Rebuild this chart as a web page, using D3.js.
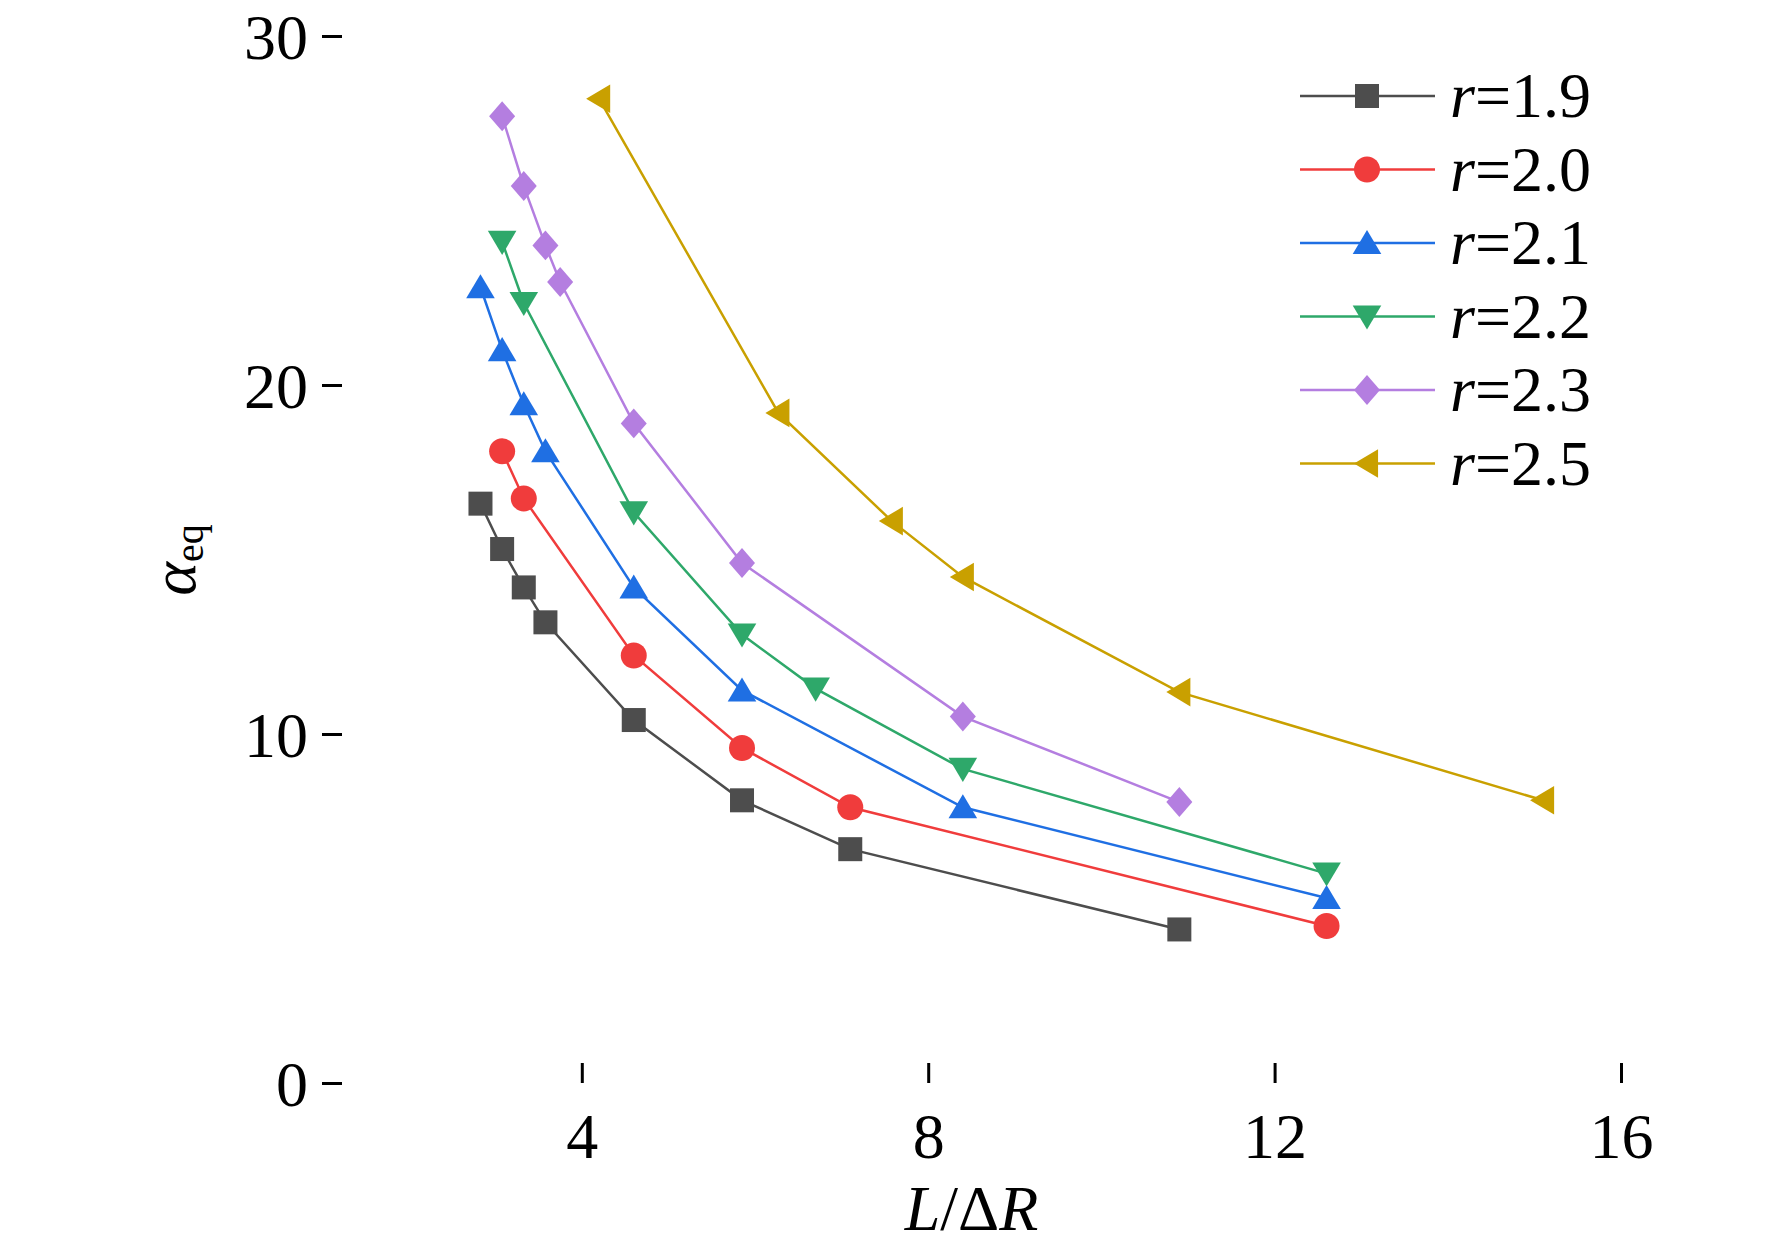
<!DOCTYPE html><html><head><meta charset="utf-8"><script src="https://cdn.jsdelivr.net/npm/d3@7"></script>
<style>body{margin:0;background:#fff}</style></head><body><svg id="c" width="1772" height="1253"></svg><script>
const labels=["r=1.9","r=2.0","r=2.1","r=2.2","r=2.3","r=2.5"];
const colors=["#4d4d4d","#f03c3c","#1f6fe3","#2ea86a","#b47ee0","#c9a000"];
const symbols=["square","circle","up","down","diamond","left"];
const x19=[2.83,3.08,3.33,3.58,4.6,5.85,7.1,10.9], y19=[16.6,15.3,14.2,13.2,10.4,8.1,6.7,4.4];
const x20=[3.08,3.33,4.6,5.85,7.1,12.6], y20=[18.1,16.75,12.25,9.6,7.9,4.5];
const x21=[2.83,3.08,3.33,3.58,4.6,5.85,8.4,12.6], y21=[22.8,21.0,19.45,18.1,14.2,11.25,7.9,5.3];
const x22=[3.08,3.33,4.6,5.85,6.7,8.4,12.6], y22=[24.1,22.35,16.35,12.85,11.3,9.0,6.0];
const x23=[3.08,3.33,3.58,3.75,4.6,5.85,8.4,10.9], y23=[27.7,25.7,24.0,22.95,18.9,14.9,10.5,8.05];
const x25=[4.2,6.27,7.58,8.4,10.9,15.1], y25=[28.2,19.2,16.1,14.5,11.2,8.1];
const xs=[x19,x20,x21,x22,x23,x25], ys=[y19,y20,y21,y22,y23,y25];
const xTicks=[4,8,12,16], yTicks=[0,10,20,30];
const svg=d3.select("#c"), L=322,R=1621,T=36,B=1083;
const x=d3.scaleLinear().domain([1,16]).range([L,R]);
const y=d3.scaleLinear().domain([0,30]).range([B,T]);
const F="'Liberation Serif','Times New Roman',serif";
function mk(g,s,cx,cy,c){const r=13;let p;
 if(s=="square")g.append("rect").attr("x",cx-r+1).attr("y",cy-r+1).attr("width",2*r-2).attr("height",2*r-2).attr("fill",c);
 else if(s=="circle")g.append("circle").attr("cx",cx).attr("cy",cy).attr("r",r).attr("fill",c);
 else {if(s=="up")p=[[0,-r],[r*1.1,r*0.85],[-r*1.1,r*0.85]];
 else if(s=="down")p=[[0,r],[r*1.1,-r*0.85],[-r*1.1,-r*0.85]];
 else if(s=="diamond")p=[[0,-r*1.15],[r,0],[0,r*1.15],[-r,0]];
 else p=[[-r,0],[r*0.85,-r*1.1],[r*0.85,r*1.1]];
 g.append("polygon").attr("points",p.map(q=>[cx+q[0],cy+q[1]].join(",")).join(" ")).attr("fill",c);}}
const line=d3.line().x(d=>x(d[0])).y(d=>y(d[1]));
xs.forEach((xa,i)=>{const pts=xa.map((v,j)=>[v,ys[i][j]]);
 svg.append("path").attr("d",line(pts)).attr("fill","none").attr("stroke",colors[i]).attr("stroke-width",2.5);
 const g=svg.append("g");pts.forEach(p=>mk(g,symbols[i],x(p[0]),y(p[1]),colors[i]));});
const ax=svg.append("g").attr("transform",`translate(0,${B})`).call(d3.axisBottom(x).tickValues(xTicks).tickSize(-20).tickPadding(30));
const ay=svg.append("g").attr("transform",`translate(${L},0)`).call(d3.axisLeft(y).tickValues(yTicks).tickSize(-20).tickPadding(14));
[ax,ay].forEach(a=>{a.select(".domain").remove();a.selectAll("line").attr("stroke","#000").attr("stroke-width",3);a.selectAll("text").attr("font-family",F).attr("font-size",64).attr("fill","#000");});
ay.selectAll("text").attr("dy","0.35em");
svg.append("text").attr("x",(L+R)/2).attr("y",1230).attr("text-anchor","middle").attr("font-family",F).attr("font-size",64).attr("font-style","italic").html('L<tspan font-style="normal">/Δ</tspan>R');
svg.append("text").attr("transform","translate(195,560) rotate(-90)").attr("text-anchor","middle").attr("font-family",F).attr("font-size",64).html('<tspan font-style="italic">α</tspan><tspan font-size="40" dy="8">eq</tspan>');
labels.forEach((t,i)=>{const yy=96+i*73.5;
 svg.append("line").attr("x1",1300).attr("x2",1435).attr("y1",yy).attr("y2",yy).attr("stroke",colors[i]).attr("stroke-width",2.5);
 mk(svg,symbols[i],1367,yy,colors[i]);
 svg.append("text").attr("x",1450).attr("y",yy+21).attr("font-family",F).attr("font-size",64).html('<tspan font-style="italic">r</tspan>'+t.slice(1));});
</script></body></html>
